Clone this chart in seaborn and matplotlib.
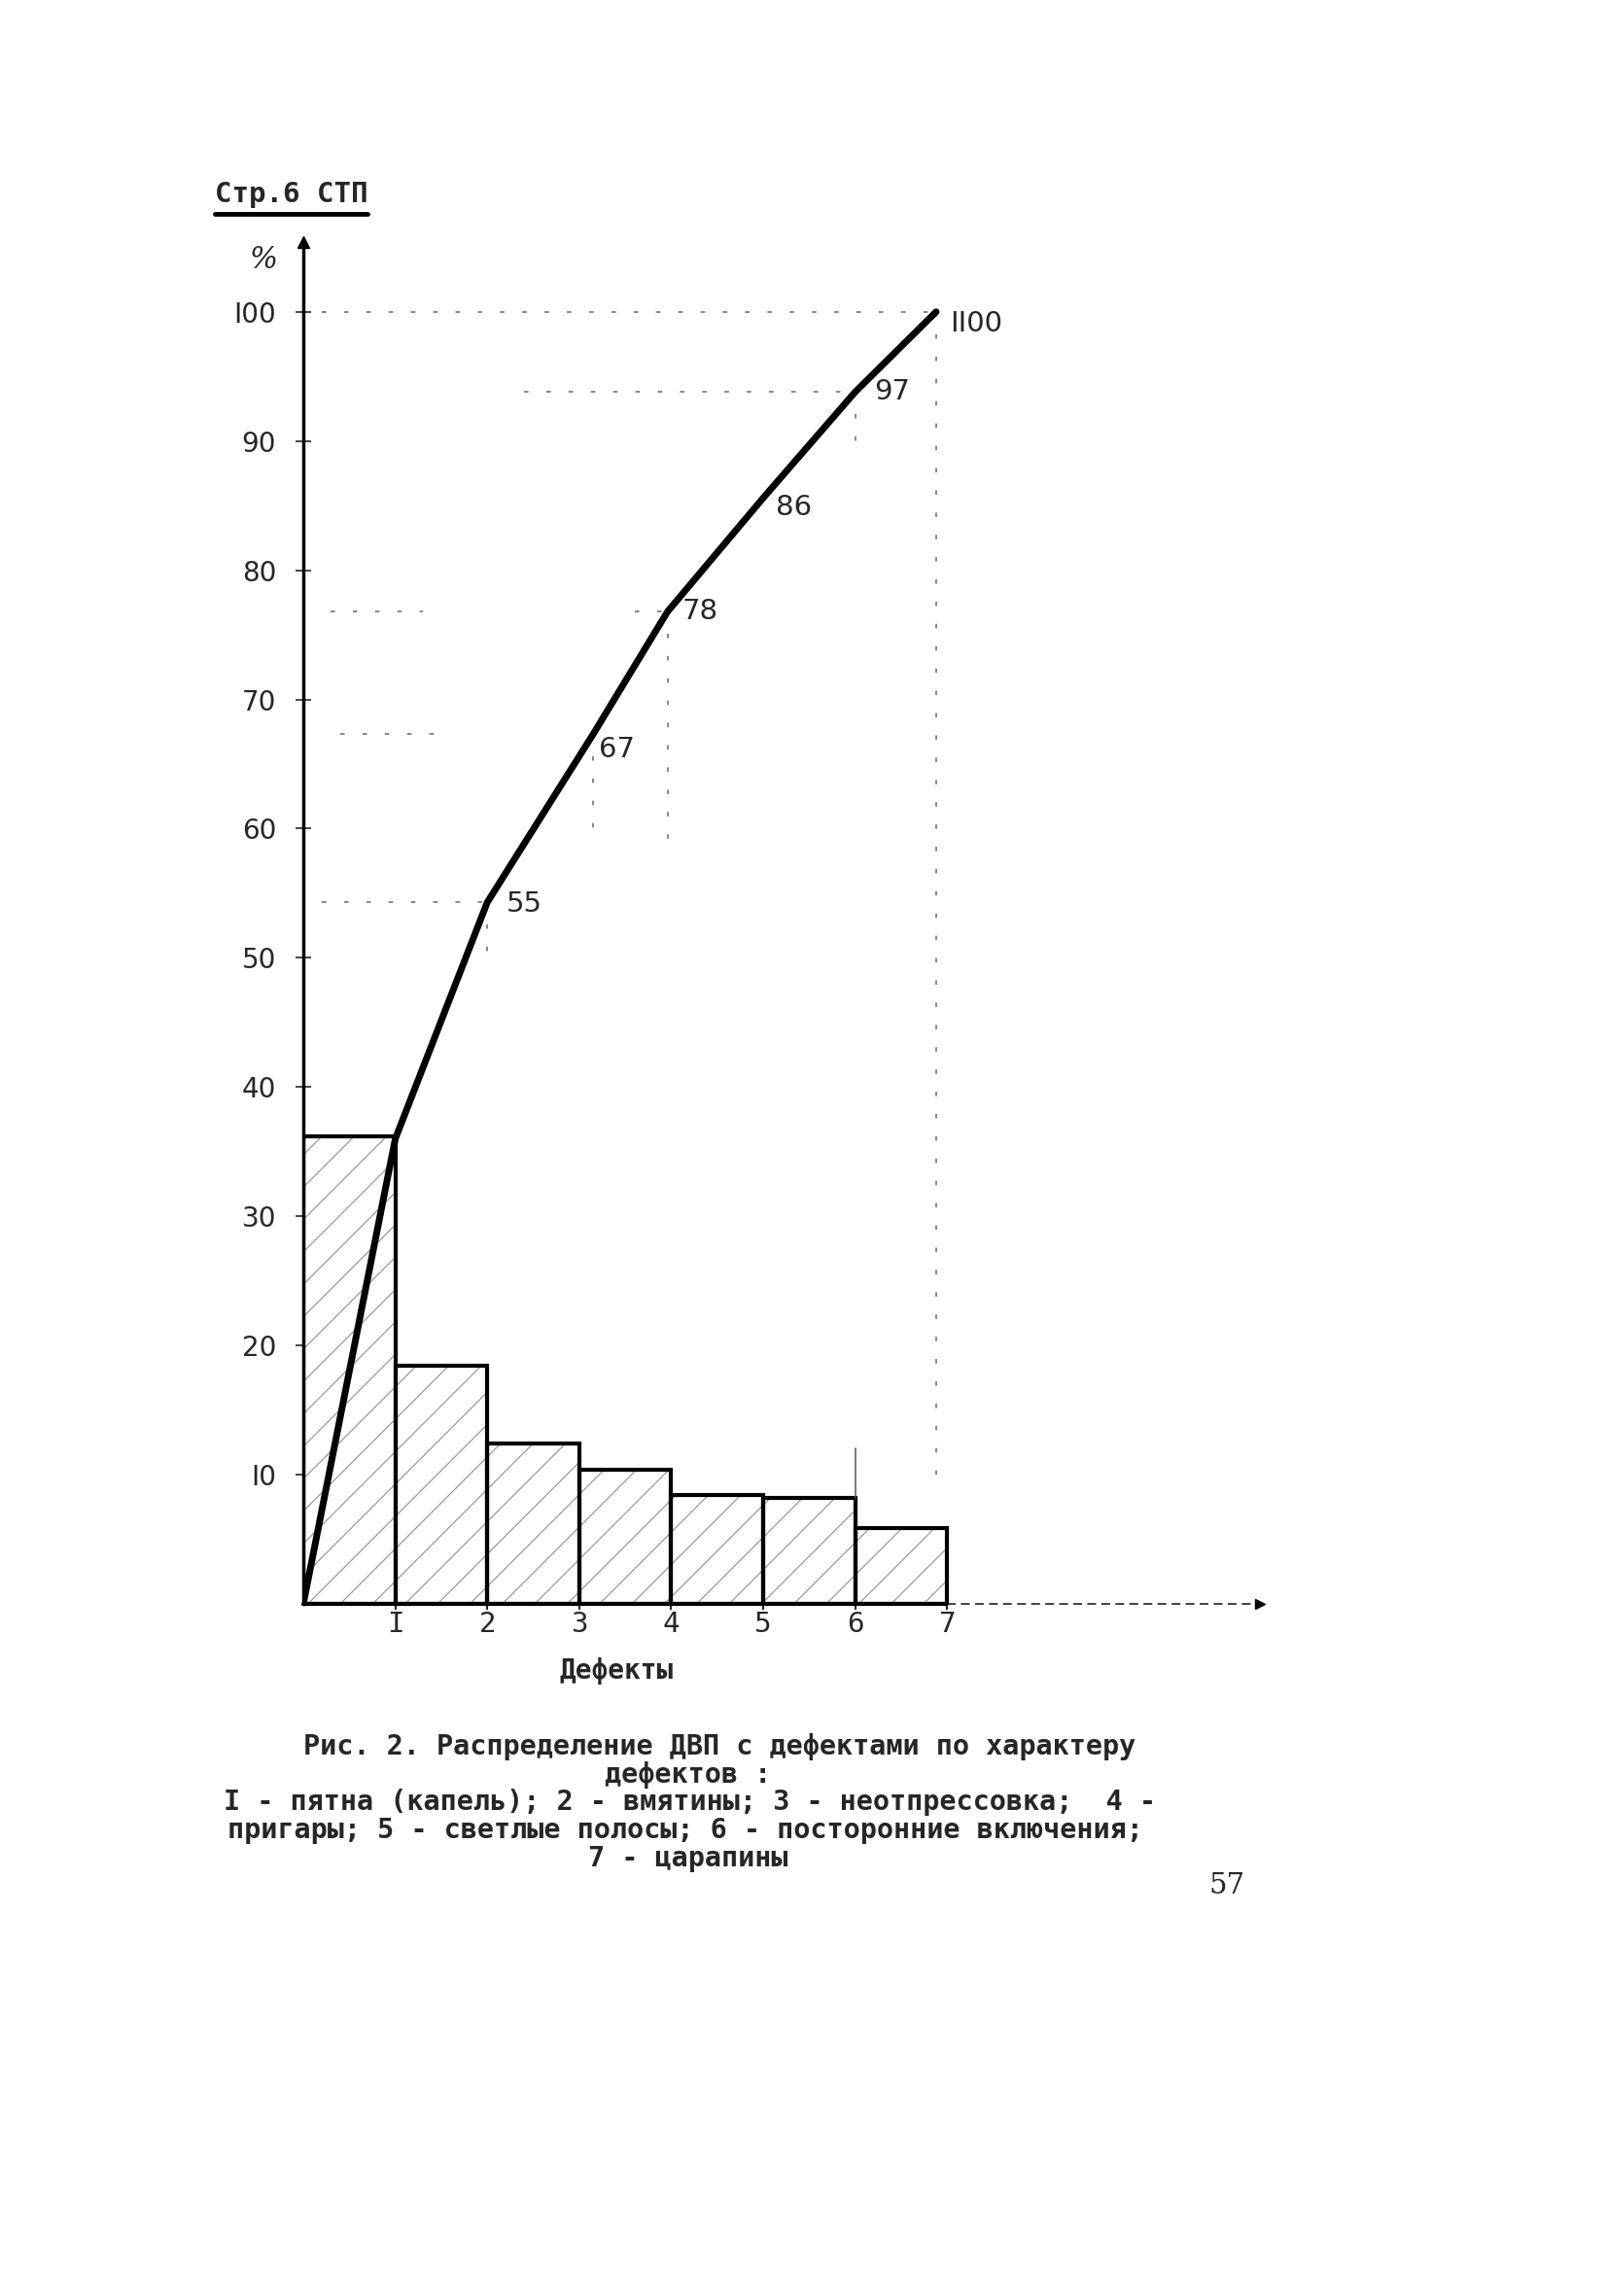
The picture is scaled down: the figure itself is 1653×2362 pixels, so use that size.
import matplotlib
matplotlib.use("Agg")
import matplotlib.pyplot as plt
import pandas as pd
import seaborn as sns

# Данные
defect_ticks = [1, 2, 3, 4, 5, 6, 7]
defect_labels = ["I", "2", "3", "4", "5", "6", "7"]
bar_pos = [0.5, 1.5, 2.5, 3.5, 4.5, 5.5, 6.5]
bar_values = [36.2, 18.4, 12.4, 10.4, 8.4, 8.2, 5.9]

# кумулятивная кривая (как нарисована) и подписи к её точкам
cum_x = [0, 1, 2, 3.15, 3.96, 5, 6, 6.88]
cum_y = [0, 36, 54.3, 67.3, 76.8, 85.6, 93.8, 100]
cum_text = ["55", "67", "78", "86", "97", "II00"]
cum_offsets = [(14, -1), (4, -11), (11, 0), (9, -7), (14, 0), (10, -9)]

y_ticks = [10, 20, 30, 40, 50, 60, 70, 80, 90, 100]
y_labels = ["I0", "20", "30", "40", "50", "60", "70", "80", "90", "I00"]

caption = [
    "Рис. 2. Распределение ДВП с дефектами по характеру",
    "дефектов :",
    "I - пятна (капель); 2 - вмятины; 3 - неотпрессовка;  4 -",
    "пригары; 5 - светлые полосы; 6 - посторонние включения;",
    "7 - царапины",
]

sns.set_style("white")
plt.rcParams["font.family"] = ["DejaVu Sans"]
plt.rcParams["hatch.linewidth"] = 0.9

W, H = 1653, 2362
fig = plt.figure(figsize=(W / 100, H / 100), dpi=100)
ax = fig.add_axes([312 / W, 1 - 1650 / H, 984 / W, 1401 / H])

df = pd.DataFrame({"pos": bar_pos, "val": bar_values})

# штриховка столбцов
sns.barplot(data=df, x="pos", y="val", native_scale=True, width=1,
            color="white", hatch="/", ax=ax)
for p in ax.patches:
    p.set_edgecolor("#9a9a9a")
    p.set_linewidth(0)
n_hatch = len(ax.patches)

# контуры столбцов
sns.barplot(data=df, x="pos", y="val", native_scale=True, width=1,
            fill=False, color="black", linewidth=3, ax=ax)
for p in ax.patches[n_hatch:]:
    p.set_edgecolor("black")
    p.set_linewidth(3)

# пунктирные вспомогательные линии
guide = dict(color="#666666", lw=1.1, ls=(0, (3, 12)), zorder=1)
ax.plot([0.2, 6.88], [100, 100], **guide)
ax.plot([2.4, 6.0], [93.8, 93.8], **guide)
ax.plot([0.3, 1.3], [76.8, 76.8], **guide)
ax.plot([3.6, 3.96], [76.8, 76.8], **guide)
ax.plot([0.4, 1.6], [67.3, 67.3], **guide)
ax.plot([0.2, 2.0], [54.3, 54.3], **guide)
ax.plot([6.88, 6.88], [100, 10], **guide)
ax.plot([3.96, 3.96], [76.8, 58], **guide)
ax.plot([3.15, 3.15], [67.3, 60], **guide)
ax.plot([2.0, 2.0], [54.3, 50], **guide)
ax.plot([6.0, 6.0], [93.8, 90], **guide)
ax.plot([6.0, 6.0], [12, 8.2], color="#555555", lw=1.1, zorder=1)

# кумулятивная линия
sns.lineplot(x=cum_x, y=cum_y, color="black", linewidth=5, ax=ax, zorder=5)
for (x, y), t, off in zip(list(zip(cum_x, cum_y))[2:], cum_text, cum_offsets):
    ax.annotate(t, (x, y), xytext=off, textcoords="offset points",
                ha="left", va="center", fontsize=21)

ax.set_xlim(0, 10.4)
ax.set_ylim(0, 105.4)
ax.set_xticks(defect_ticks)
ax.set_xticklabels(defect_labels, family="DejaVu Sans Mono", fontsize=21)
ax.set_yticks(y_ticks)
ax.set_yticklabels(y_labels, fontsize=20)
ax.tick_params(axis="y", direction="inout", length=12, width=1.2, pad=14, left=True)
ax.tick_params(axis="x", length=8, width=1.5, pad=1, bottom=True, direction="inout")
ax.set_xlabel("")
ax.set_ylabel("")

for s in ["top", "right", "bottom"]:
    ax.spines[s].set_visible(False)
ax.spines["left"].set_linewidth(2.5)
ax.spines["left"].set_color("black")

# ось X: сплошная до 7, дальше пунктир, стрелки на концах осей
ax.plot([0, 7], [0, 0], color="black", lw=3, clip_on=False, zorder=6)
ax.plot([7, 10.3], [0, 0], color="#333333", lw=1.3, ls=(0, (5, 3)), clip_on=False)
ax.plot(10.4, 0, ">", color="black", ms=7, clip_on=False)
ax.plot(0, 105.4, "^", color="black", ms=8, clip_on=False)

# подписи
def ftext(x, y, s, **kw):
    fig.text(x / W, 1 - y / H, s, **kw)

ftext(221, 200, "Стр.6 СТП", family="DejaVu Sans Mono", fontsize=21,
      ha="left", va="center", weight="bold")
fig.add_artist(plt.Line2D([221 / W, 378 / W], [1 - 220 / H, 1 - 220 / H],
                          color="black", lw=3.5))
ftext(271, 268, "%", family="DejaVu Serif", style="italic", fontsize=22,
      ha="center", va="center")
ftext(634, 1719, "Дефекты", family="DejaVu Sans Mono", fontsize=20,
      ha="center", va="center", weight="bold")

cap_y = [1797, 1826, 1854, 1883, 1912]
cap_x = [740, 708, 710, 705, 708]
for x, y, s in zip(cap_x, cap_y, caption):
    ftext(x, y, s, family="DejaVu Sans Mono", fontsize=20.5,
          ha="center", va="center", weight="bold")
ftext(1262, 1940, "57", family="DejaVu Serif", fontsize=21,
      ha="center", va="center")

fig.savefig("out.png", dpi=100, facecolor="white")
